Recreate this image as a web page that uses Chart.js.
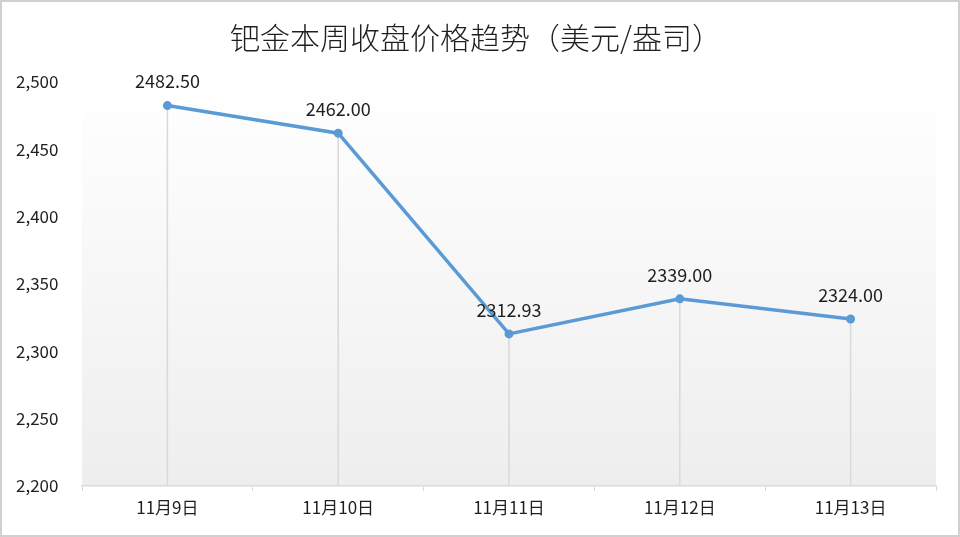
<!DOCTYPE html>
<html>
<head>
<meta charset="utf-8">
<script src="https://cdn.jsdelivr.net/npm/chart.js@4/dist/chart.umd.min.js"></script>
<style>
  html, body { margin: 0; padding: 0; background: #fff; }
  #wrap { width: 960px; height: 537px; position: relative; }
</style>
</head>
<body>
<div id="wrap"><canvas id="chart"></canvas></div>
<script>
// Palladium weekly closing prices (USD/oz)
const TITLE = "钯金本周收盘价格趋势（美元/盎司）";
const dates = ["11月9日", "11月10日", "11月11日", "11月12日", "11月13日"];
const closePrices = [2482.50, 2462.00, 2312.93, 2339.00, 2324.00];
const yTicks = [2200, 2250, 2300, 2350, 2400, 2450, 2500];

const LINE_COLOR = "#5b9bd5";
const AXIS_COLOR = "#d9d9d9";
const TEXT_COLOR = "#1f1f1f";
const FONT = "'Noto Sans CJK SC', 'Noto Sans', sans-serif";

// plot area background: white fading to light gray
const plotBackground = {
  id: "plotBackground",
  beforeDraw(chart) {
    const { ctx, chartArea: a } = chart;
    const g = ctx.createLinearGradient(0, a.top, 0, a.bottom);
    g.addColorStop(0, "#ffffff");
    g.addColorStop(1, "#eeeeee");
    ctx.save();
    ctx.fillStyle = g;
    ctx.fillRect(a.left, a.top, a.right - a.left, a.bottom - a.top);
    ctx.restore();
  },
};

// vertical drop lines from each point down to the x axis
const dropLines = {
  id: "dropLines",
  beforeDatasetsDraw(chart) {
    const { ctx, chartArea: a } = chart;
    const meta = chart.getDatasetMeta(0);
    ctx.save();
    ctx.strokeStyle = AXIS_COLOR;
    ctx.lineWidth = 1.5;
    meta.data.forEach((pt) => {
      ctx.beginPath();
      ctx.moveTo(pt.x, pt.y);
      ctx.lineTo(pt.x, a.bottom);
      ctx.stroke();
    });
    ctx.restore();
  },
};

// value labels above the points, plus the outer frame
const valueLabels = {
  id: "valueLabels",
  afterDatasetsDraw(chart) {
    const { ctx } = chart;
    const meta = chart.getDatasetMeta(0);
    ctx.save();
    ctx.font = "18px " + FONT;
    ctx.fillStyle = TEXT_COLOR;
    ctx.textAlign = "center";
    ctx.textBaseline = "middle";
    meta.data.forEach((pt, i) => {
      ctx.fillText(closePrices[i].toFixed(2), pt.x, pt.y - 24);
    });
    ctx.restore();
  },
  afterDraw(chart) {
    const { ctx, width, height } = chart;
    ctx.save();
    ctx.strokeStyle = "#d0d0d0";
    ctx.lineWidth = 2;
    ctx.strokeRect(1, 1, width - 2, height - 2);
    ctx.restore();
  },
};

new Chart(document.getElementById("chart"), {
  type: "line",
  data: {
    labels: dates,
    datasets: [{
      data: closePrices,
      borderColor: LINE_COLOR,
      backgroundColor: LINE_COLOR,
      borderWidth: 3.5,
      pointRadius: 4.5,
      pointBackgroundColor: LINE_COLOR,
      pointBorderWidth: 0,
      tension: 0,
      fill: false,
    }],
  },
  options: {
    responsive: true,
    maintainAspectRatio: false,
    animation: false,
    layout: { padding: { left: 16, right: 24, top: 0, bottom: 0 } },
    plugins: {
      legend: { display: false },
      tooltip: { enabled: false },
      title: {
        display: true,
        text: TITLE,
        color: TEXT_COLOR,
        font: { family: FONT, size: 30, weight: "300" },
        padding: { top: 20, bottom: 26 },
      },
    },
    scales: {
      x: {
        offset: true,
        grid: {
          display: true,
          offset: true,
          drawOnChartArea: false,
          drawTicks: true,
          tickLength: 5,
          color: AXIS_COLOR,
        },
        border: { display: true, color: AXIS_COLOR, width: 1.5 },
        ticks: {
          color: TEXT_COLOR,
          font: { family: FONT, size: 17 },
          padding: 6,
          maxRotation: 0,
        },
        afterFit(scale) { scale.height = 51; },
      },
      y: {
        min: 2200,
        max: 2500,
        afterBuildTicks(scale) {
          scale.ticks = yTicks.map((v) => ({ value: v }));
        },
        grid: { display: false },
        border: { display: false },
        ticks: {
          color: TEXT_COLOR,
          font: { family: FONT, size: 17 },
          crossAlign: "far",
          padding: 0,
          callback: (v) => v.toLocaleString("en-US"),
        },
        afterFit(scale) { scale.width = 66; },
      },
    },
  },
  plugins: [plotBackground, dropLines, valueLabels],
});
</script>
</body>
</html>
